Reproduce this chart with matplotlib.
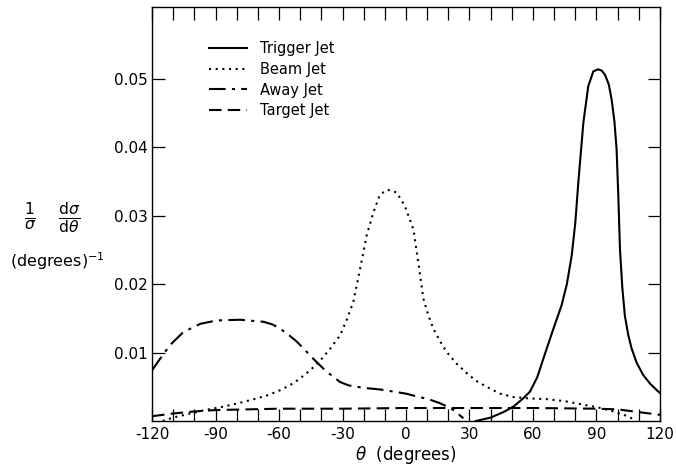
import numpy as np
import matplotlib.pyplot as plt
from matplotlib.ticker import MultipleLocator

# values
trig_x = [33, 40, 46, 50.7, 55, 58.6, 62, 66.5, 70, 73.5, 76, 78.3, 80, 81.4, 83.8, 86.1,
          88.5, 90.8, 92.5, 94, 95.8, 97.2, 98.5, 99.5, 100.3, 101.1, 102.2, 103.4, 105,
          106.6, 109, 112.1, 115.5, 119.2, 120]
trig_y = [0.0, 0.0005, 0.0013, 0.0021, 0.0032, 0.0043, 0.0064, 0.0106, 0.0138, 0.0169,
          0.0200, 0.0242, 0.0290, 0.0348, 0.0436, 0.0489, 0.0511, 0.0514, 0.0512, 0.0506,
          0.0492, 0.0469, 0.0437, 0.0397, 0.0330, 0.0251, 0.0195, 0.0154, 0.0126, 0.0106,
          0.0085, 0.0067, 0.0054, 0.0043, 0.0041]

beam_x = [-115, -110, -102, -95, -86.3, -78, -70.5, -65, -59.5, -55, -50.1, -45, -40.6,
          -36, -31.2, -28, -24.9, -21.7, -18.6, -15.4, -12.3, -8.8, -4.4, -0.5, 3.5, 5.8,
          8.2, 10.5, 12.9, 16, 19.2, 23.5, 28.7, 33, 38.1, 44.4, 50.7, 58, 66.5, 75, 85.3,
          92, 97.9, 103, 107.4]
beam_y = [0.0, 0.0005, 0.0011, 0.0016, 0.0021, 0.0027, 0.0033, 0.0038, 0.0045, 0.0052,
          0.0062, 0.0075, 0.0088, 0.0105, 0.0125, 0.0148, 0.0174, 0.0222, 0.0271, 0.0305,
          0.0331, 0.0338, 0.0334, 0.0314, 0.0280, 0.0232, 0.0179, 0.0155, 0.0135, 0.0117,
          0.0101, 0.0085, 0.0070, 0.0059, 0.0050, 0.0040, 0.0035, 0.0033, 0.0032, 0.0029,
          0.0023, 0.0019, 0.0014, 0.0009, 0.0003]

away_x = [-120, -116.2, -111.5, -105.2, -97.2, -89.4, -78.4, -67.3, -63, -59.5, -55.5,
          -51.6, -47.5, -43.8, -40.5, -37.5, -34, -31.2, -27, -23.3, -18.6, -12, -6.0, 0,
          5.0, 10.5, 16.1, 19.5, 22.4, 24.8, 27.1]
away_y = [0.0074, 0.0091, 0.0111, 0.0130, 0.0142, 0.0147, 0.0148, 0.0145, 0.0141, 0.0135,
          0.0126, 0.0116, 0.0103, 0.0091, 0.0081, 0.0072, 0.0064, 0.0057, 0.0052, 0.0050,
          0.0048, 0.0046, 0.0043, 0.0040, 0.0036, 0.0032, 0.0026, 0.0021, 0.0016, 0.0010,
          0.0004]

targ_x = [-120, -110, -100, -90, -75, -60, -30, 0, 30, 60, 90, 100, 105, 110, 120]
targ_y = [0.0007, 0.0011, 0.0014, 0.0016, 0.0017, 0.0018, 0.0018, 0.0019, 0.0019, 0.0019,
          0.0018, 0.0017, 0.0015, 0.0013, 0.0009]

x_ticks = [-120, -90, -60, -30, 0, 30, 60, 90, 120]
y_ticks = [0.01, 0.02, 0.03, 0.04, 0.05]

fig = plt.figure(figsize=(6.76, 4.68), dpi=100)
ax = fig.add_axes([0.2249, 0.1004, 0.7514, 0.8846])

ax.plot(trig_x, trig_y, color="black", lw=1.5, ls="-", label="Trigger Jet")
ax.plot(beam_x, beam_y, color="black", lw=1.5, ls=(0, (1, 2.2)), label="Beam Jet")
ax.plot(away_x, away_y, color="black", lw=1.5, ls=(0, (8, 3, 1.5, 3)), label="Away Jet")
ax.plot(targ_x, targ_y, color="black", lw=1.5, ls=(0, (6, 3)), label="Target Jet")

ax.set_xlim(-120, 120)
ax.set_ylim(0, 0.0605)
ax.set_xticks(x_ticks)
ax.set_xticklabels([str(v) for v in x_ticks])
ax.set_yticks(y_ticks)
ax.set_yticklabels([f"{v:.2f}" for v in y_ticks])
ax.xaxis.set_minor_locator(MultipleLocator(10))
ax.tick_params(which="both", direction="in", top=True, right=True, labelsize=11,
               width=0.9, colors="black")
ax.tick_params(axis="x", which="both", length=9, pad=4)
ax.tick_params(axis="y", which="both", length=9, pad=3)
for s in ax.spines.values():
    s.set_linewidth(1.0)

ax.set_xlabel(r"$\theta$  (degrees)", fontsize=12, labelpad=2)

fig.text(0.077, 0.535, r"$\frac{1}{\sigma}\ \ \ \frac{\mathrm{d}\sigma}{\mathrm{d}\theta}$",
         fontsize=16, ha="center", va="center")
fig.text(0.085, 0.443, r"(degrees)$^{-1}$", fontsize=11.5, ha="center", va="center")

ax.legend(loc="upper left", bbox_to_anchor=(0.087, 0.95), frameon=False, fontsize=10.5,
          handlelength=2.6, labelspacing=0.4, handletextpad=0.9)

fig.savefig("out.png", dpi=100)
